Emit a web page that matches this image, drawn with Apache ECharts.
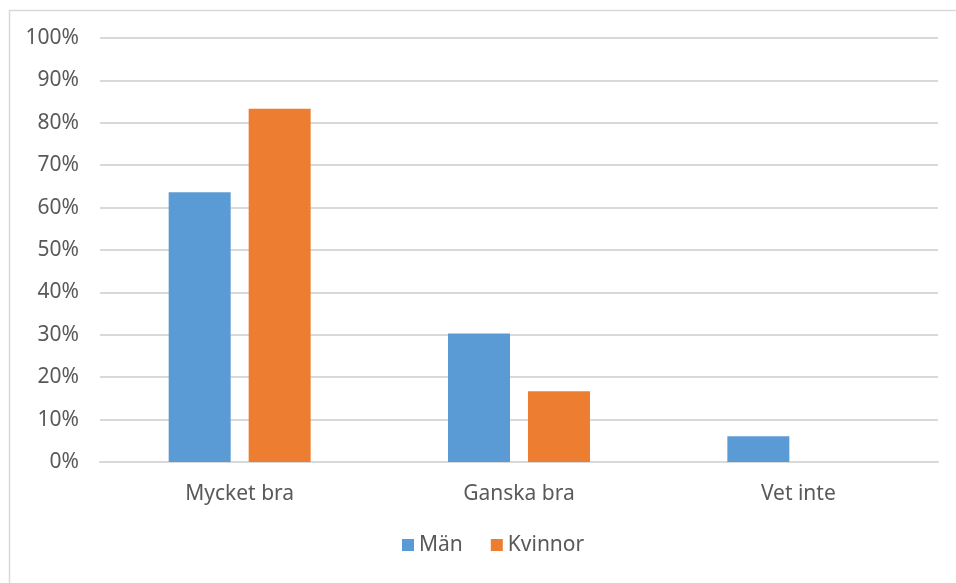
<!DOCTYPE html>
<html>
<head>
<meta charset="utf-8">
<script src="https://cdn.jsdelivr.net/npm/echarts@6/dist/echarts.min.js"></script>
<style>html,body{margin:0;padding:0;background:#fff}#c{width:956px;height:583px}</style>
</head>
<body>
<div id="c"></div>
<script>
const categories = ['Mycket bra', 'Ganska bra', 'Vet inte'];
const man = [63.6, 30.3, 6.1];
const kvinnor = [83.3, 16.7, 0];
const yTicks = [0, 10, 20, 30, 40, 50, 60, 70, 80, 90, 100];

const font = 'Noto Sans';
const txt = '#595959';
const chart = echarts.init(document.getElementById('c'));
chart.setOption({
  animation: false,
  backgroundColor: '#fff',
  graphic: [{
    type: 'rect', left: 7, top: 8, shape: { width: 1000, height: 700 },
    style: { fill: 'none', stroke: '#D9D9D9', lineWidth: 1.5 }, silent: true, z: -1
  }],
  grid: { left: 100, right: 18, top: 38, bottom: 121 },
  legend: {
    left: 402, top: 533, padding: 0, itemWidth: 12, itemHeight: 12, itemGap: 28,
    icon: 'rect',
    textStyle: { fontFamily: font, fontSize: 21, color: txt, lineHeight: 24 },
    data: ['Män', 'Kvinnor']
  },
  xAxis: {
    type: 'category', data: categories,
    axisLine: { lineStyle: { color: '#D9D9D9', width: 2 } },
    axisTick: { show: false },
    axisLabel: { fontFamily: font, fontSize: 21, color: txt, margin: 22 }
  },
  yAxis: {
    type: 'value', min: yTicks[0], max: yTicks[yTicks.length - 1], interval: 10,
    axisLine: { show: false }, axisTick: { show: false },
    splitLine: { lineStyle: { color: '#D9D9D9', width: 2 } },
    axisLabel: { fontFamily: font, fontSize: 21, color: txt, margin: 21, formatter: v => v + '%' }
  },
  series: [
    { name: 'Män', type: 'bar', data: man, barWidth: 62, barGap: '29%',
      itemStyle: { color: '#5B9BD5' } },
    { name: 'Kvinnor', type: 'bar', data: kvinnor, barWidth: 62, barGap: '29%',
      itemStyle: { color: '#ED7D31' } }
  ]
});
</script>
</body>
</html>
